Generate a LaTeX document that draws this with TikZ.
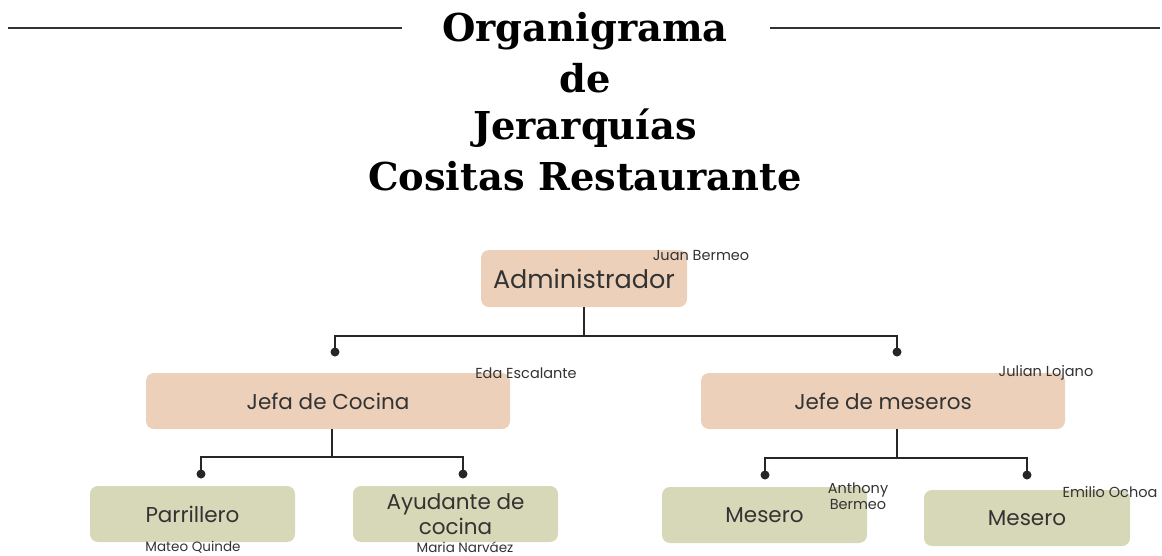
\documentclass[tikz,border=0pt]{standalone}
\usepackage{fontspec}
\setmainfont{Poppins}
\newfontfamily\titlefont{DejaVu Serif}
\definecolor{peach}{HTML}{EDD0B9}
\definecolor{olive}{HTML}{D7D8B8}
\definecolor{txt}{HTML}{333333}
\definecolor{conn}{HTML}{262626}
\begin{document}
\begin{tikzpicture}[x=1pt,y=-1pt,
  box/.style={rounded corners=8pt, draw=none, text=txt, align=center, inner sep=0pt},
  topbox/.style={box, fill=peach},
  lowbox/.style={box, fill=olive},
  person/.style={text=txt, font=\fontsize{14.5}{15}\selectfont, inner sep=0pt, align=center},
  title/.style={font=\titlefont\bfseries\fontsize{38.4}{46}\selectfont, inner sep=0pt},
  link/.style={draw=conn, line width=2.2pt},
  dot/.style={fill=conn}
]
\useasboundingbox (0,0) rectangle (1162,555);
% title
\node[title] (t1) at (585,31) {Organigrama};
\node[title] (t2) at (585,78) {de};
\node[title] (t3) at (585,128) {Jerarquías};
\node[title] (t4) at (585,176) {Cositas Restaurante};
\coordinate (l1) at (8,28); \coordinate (l2) at (402,28);
\coordinate (r1) at (770,28); \coordinate (r2) at (1160,28);
\draw[draw=txt, line width=1.2pt] (l1) -- (l2);
\draw[draw=txt, line width=1.2pt] (r1) -- (r2);
% boxes
\node[topbox, minimum width=206pt, minimum height=57pt, font=\fontsize{25.5}{30}\selectfont] (admin) at (584,278.5) {Administrador};
\node[topbox, minimum width=364pt, minimum height=56pt, font=\fontsize{21.5}{26}\selectfont] (jc) at (328,401) {Jefa de Cocina};
\node[topbox, minimum width=364pt, minimum height=56pt, font=\fontsize{21.5}{26}\selectfont] (jm) at (883,401) {Jefe de meseros};
\node[lowbox, minimum width=205pt, minimum height=56pt, font=\fontsize{21.5}{26}\selectfont] (par) at (192.5,514) {Parrillero};
\node[lowbox, minimum width=205pt, minimum height=56pt, font=\fontsize{21.5}{25}\selectfont] (ayu) at (455.5,514) {Ayudante de\\cocina};
\node[lowbox, minimum width=205pt, minimum height=56pt, font=\fontsize{21.5}{26}\selectfont] (m1) at (764.5,515) {Mesero};
\node[lowbox, minimum width=206pt, minimum height=56pt, font=\fontsize{21.5}{26}\selectfont] (m2) at (1027,518) {Mesero};
% names
\node[person] (n1) at (701,256) {Juan Bermeo};
\node[person] (n2) at (526,373) {Eda Escalante};
\node[person] (n3) at (1046,373) {Julian Lojano};
\node[person, font=\fontsize{13.5}{14}\selectfont] (n4) at (193,547) {Mateo Quinde};
\node[person, font=\fontsize{13.5}{14}\selectfont] (n5) at (465,547) {Maria Narváez};
\node[person, font=\fontsize{14.5}{15.5}\selectfont] (n6) at (858,496) {Anthony\\Bermeo};
\node[person] (n7) at (1110,492) {Emilio Ochoa};
% connectors level 1
\coordinate (b1) at (584,336);
\coordinate (d1) at (335,352);
\coordinate (d2) at (897,352);
\draw[link] (admin.south) -- (b1);
\draw[link] (d1) |- (b1) -| (d2);
\fill[dot] (d1) circle (4.5pt);
\fill[dot] (d2) circle (4.5pt);
% connectors level 2 left
\coordinate (b2) at (332,457);
\coordinate (d3) at (201,474);
\coordinate (d4) at (463,474);
\draw[link] (b2 |- jc.south) -- (b2);
\draw[link] (d3) |- (b2) -| (d4);
\fill[dot] (d3) circle (4.5pt);
\fill[dot] (d4) circle (4.5pt);
% connectors level 2 right
\coordinate (b3) at (897,458);
\coordinate (d5) at (765,475);
\coordinate (d6) at (1027,475);
\draw[link] (b3 |- jm.south) -- (b3);
\draw[link] (d5) |- (b3) -| (d6);
\fill[dot] (d5) circle (4.5pt);
\fill[dot] (d6) circle (4.5pt);
\end{tikzpicture}
\end{document}
